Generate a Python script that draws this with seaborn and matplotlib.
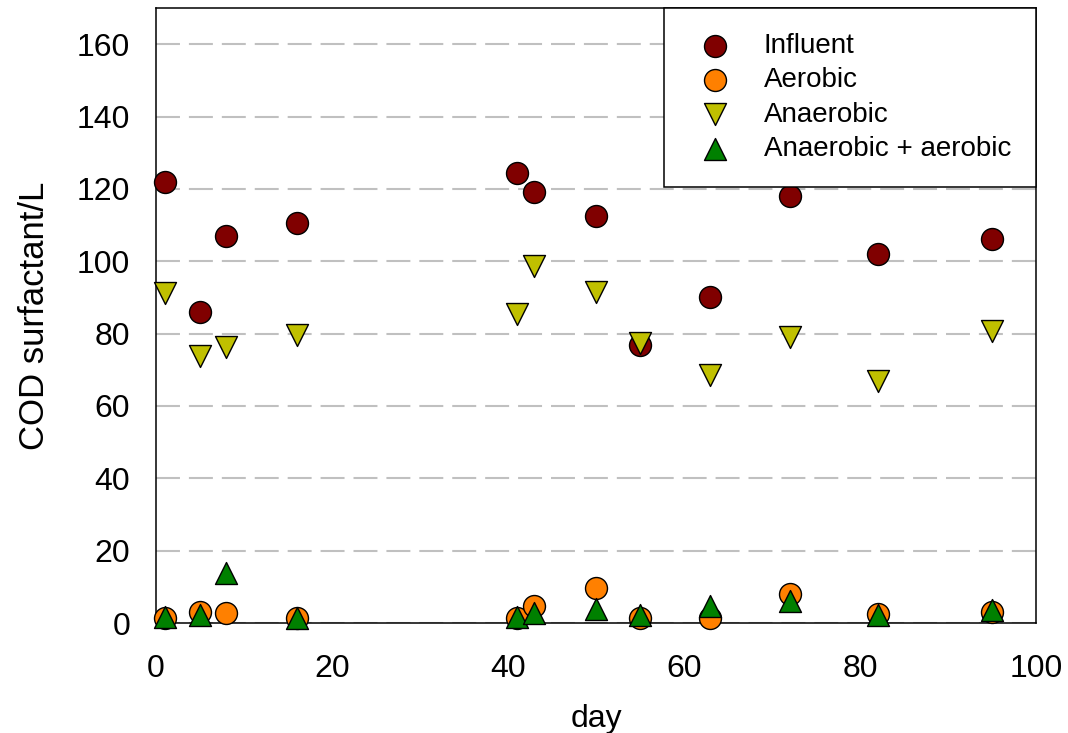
import matplotlib
matplotlib.use("Agg")
import matplotlib.pyplot as plt
import seaborn as sns
import pandas as pd

# Sampling days
days = [1, 5, 8, 16, 41, 43, 50, 55, 63, 72, 82, 95]

# COD surfactant per litre for each stream
influent = [122.0, 85.9, 106.9, 110.6, 124.4, 119.2, 112.5, 76.8, 90.1, 118.0, 102.0, 106.3]
aerobic = [1.3, 3.1, 2.9, 1.3, 1.3, 4.7, 9.6, 1.3, 1.3, 7.9, 2.4, 3.1]
anaerobic = [91.2, 73.9, 76.4, 79.7, 85.3, 98.7, 91.4, 77.5, 68.5, 79.2, 66.8, 80.7]
anaerobic_aerobic = [1.7, 2.2, 13.7, 1.3, 1.7, 2.7, 3.8, 2.2, 4.7, 6.2, 2.2, 3.6]

series_names = ["Influent", "Aerobic", "Anaerobic", "Anaerobic + aerobic"]
series_values = [influent, aerobic, anaerobic, anaerobic_aerobic]
series_colors = ["#800000", "#ff8000", "#c0c000", "#008000"]
series_markers = ["o", "o", "v", "^"]

sns.set_theme(style="white")
plt.rcParams["font.family"] = ["Liberation Sans", "DejaVu Sans"]
plt.rcParams["text.color"] = "black"

fig = plt.figure(figsize=(10.68, 7.33), dpi=100)
ax = fig.add_axes([0.1461, 0.150, 0.8240, 0.839])

for name, vals, col, mk in zip(series_names, series_values, series_colors, series_markers):
    df = pd.DataFrame({"day": days, "value": vals})
    sns.scatterplot(data=df, x="day", y="value", ax=ax, color=col, marker=mk,
                    s=250, edgecolor="black", linewidth=1.0, label=name,
                    clip_on=False, zorder=3)

ax.set_xlim(0, 100)
ax.set_ylim(0, 170)
ax.set_xticks(range(0, 101, 20))
ax.set_yticks(range(0, 161, 20))

ax.yaxis.grid(True, color="#c0c0c0", linewidth=1.5, linestyle=(0, (11.5, 4.3)))
ax.xaxis.grid(False)
ax.set_axisbelow(True)

for sp in ax.spines.values():
    sp.set_color("black")
    sp.set_linewidth(1.1)

ax.tick_params(axis="both", direction="out", length=6.5, width=1.1, color="black",
               labelsize=23, labelcolor="black")
ax.tick_params(axis="x", pad=16)
ax.tick_params(axis="y", pad=12)

ax.set_xlabel("day", fontsize=23, color="black", labelpad=14)
ax.set_ylabel("COD surfactant/L", fontsize=25, color="black", labelpad=19)

leg = ax.legend(loc="upper right", fontsize=20, frameon=True, fancybox=False,
                edgecolor="black", borderpad=0.9, labelspacing=0.3,
                handlelength=1.9, handletextpad=0.8, borderaxespad=0.0,
                markerscale=1.0)
for t in leg.get_texts():
    t.set_color("black")
leg.get_frame().set_linewidth(1.1)
leg.get_frame().set_facecolor("white")
leg.get_frame().set_alpha(1.0)
leg.set_zorder(5)

fig.savefig("out.png", dpi=100)
